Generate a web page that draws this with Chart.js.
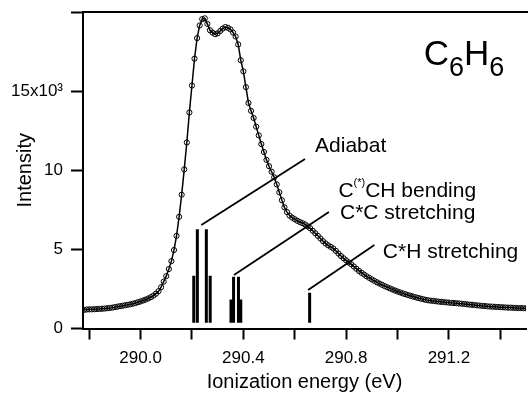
<!DOCTYPE html>
<html><head><meta charset="utf-8">
<script src="https://cdn.jsdelivr.net/npm/chart.js@4.4.0/dist/chart.umd.min.js"></script>
<style>html,body{margin:0;padding:0;background:#fff;}</style>
</head><body>
<canvas id="c" width="531" height="393"></canvas>
<script>
// Photoelectron spectrum (intensity in units of 10^3 counts)
const energy = [
289.78,289.79,289.80,289.81,289.82,289.83,289.84,289.85,289.86,289.87,
289.88,289.89,289.90,289.91,289.92,289.93,289.94,289.95,289.96,289.97,
289.98,289.99,290.00,290.01,290.02,290.03,290.04,290.05,290.06,290.07,
290.08,290.09,290.10,290.11,290.12,290.13,290.14,290.15,290.16,290.17,
290.18,290.19,290.20,290.21,290.22,290.23,290.24,290.25,290.26,290.27,
290.28,290.29,290.30,290.31,290.32,290.33,290.34,290.35,290.36,290.37,
290.38,290.39,290.40,290.41,290.42,290.43,290.44,290.45,290.46,290.47,
290.48,290.49,290.50,290.51,290.52,290.53,290.54,290.55,290.56,290.57,
290.58,290.59,290.60,290.61,290.62,290.63,290.64,290.65,290.66,290.67,
290.68,290.69,290.70,290.71,290.72,290.73,290.74,290.75,290.76,290.77,
290.78,290.79,290.80,290.81,290.82,290.83,290.84,290.85,290.86,290.87,
290.88,290.89,290.90,290.91,290.92,290.93,290.94,290.95,290.96,290.97,
290.98,290.99,291.00,291.01,291.02,291.03,291.04,291.05,291.06,291.07,
291.08,291.09,291.10,291.11,291.12,291.13,291.14,291.15,291.16,291.17,
291.18,291.19,291.20,291.21,291.22,291.23,291.24,291.25,291.26,291.27,
291.28,291.29,291.30,291.31,291.32,291.33,291.34,291.35,291.36,291.37,
291.38,291.39,291.40,291.41,291.42,291.43,291.44,291.45,291.46,291.47,
291.48,291.49,291.50
];
const intensity = [
0.82,0.84,0.85,0.85,0.86,0.87,0.88,0.89,0.90,0.92,
0.94,0.96,0.99,1.02,1.05,1.08,1.11,1.14,1.17,1.21,
1.25,1.30,1.35,1.41,1.47,1.54,1.62,1.72,1.84,2.00,
2.25,2.60,2.95,3.40,3.90,4.60,5.50,6.70,8.10,9.70,
11.40,13.30,15.00,16.70,18.00,18.80,19.20,19.25,18.90,18.50,
18.35,18.25,18.30,18.45,18.60,18.70,18.65,18.55,18.35,18.10,
17.60,16.60,15.90,14.90,13.90,13.40,12.95,12.40,11.85,11.30,
10.80,10.30,9.90,9.55,9.20,8.75,8.25,7.75,7.30,7.00,
6.78,6.65,6.55,6.45,6.37,6.30,6.22,6.10,5.98,5.82,
5.66,5.50,5.33,5.16,5.02,4.90,4.80,4.70,4.55,4.38,
4.22,4.08,3.95,3.82,3.70,3.56,3.42,3.28,3.16,3.05,
2.94,2.84,2.74,2.65,2.56,2.48,2.40,2.32,2.25,2.18,
2.11,2.04,1.98,1.92,1.86,1.81,1.76,1.71,1.66,1.62,
1.57,1.53,1.49,1.45,1.42,1.40,1.38,1.36,1.34,1.32,
1.31,1.29,1.28,1.26,1.25,1.24,1.22,1.21,1.19,1.17,
1.15,1.14,1.12,1.10,1.09,1.07,1.06,1.04,1.03,1.02,
1.01,1.00,0.99,0.98,0.97,0.96,0.96,0.95,0.94,0.93,
0.93,0.92,0.92
];
// Vibrational stick spectrum
const stickEnergy = [290.207,290.221,290.256,290.271,290.352,290.362,290.381,290.390,290.658];
const stickHeight = [2.98,5.91,5.91,2.98,1.48,2.91,2.91,1.48,1.90];
// Leader lines (start x, start y, end x, end y) in data units
const leaderX0 = [290.2365,290.3635,290.652];
const leaderY0 = [6.18,3.02,2.07];
const leaderX1 = [290.640,290.733,290.910];
const leaderY1 = [10.35,7.00,4.92];
// Axis tick values
const xTickStep = 0.2;
const xLabelledTicks = ['290.0','290.4','290.8','291.2'];
const yTickStep = 5;
const yTickLabels = {0:'0',5:'5',10:'10',15:'15x10³'};

const FONT = '"Liberation Sans", Arial, Helvetica, sans-serif';

const curveData = energy.map((e,i)=>({x:e,y:intensity[i]}));
const stickData = [];
stickEnergy.forEach((e,i)=>{ stickData.push({x:e,y:0},{x:e,y:stickHeight[i]},{x:e,y:null}); });
const leaderData = [];
leaderX0.forEach((x,i)=>{ leaderData.push({x:x,y:leaderY0[i]},{x:leaderX1[i],y:leaderY1[i]},{x:leaderX1[i],y:null}); });

const labelDefs = [
  {x:290.679, y:10.81, parts:[{t:'Adiabat'}]},
  {x:290.770, y:7.97, parts:[{t:'C'},{t:'(*)',sup:true},{t:'CH bending'}]},
  {x:290.776, y:6.54, parts:[{t:'C*C stretching'}]},
  {x:290.943, y:4.12, parts:[{t:'C*H stretching'}]}
];
const formula = {x:291.102, y:16.30};

const decor = {
  id:'decor',
  afterDraw(chart){
    const ctx = chart.ctx, a = chart.chartArea, sx = chart.scales.x, sy = chart.scales.y;
    ctx.save();
    ctx.strokeStyle = '#000'; ctx.lineWidth = 2;
    ctx.beginPath(); ctx.moveTo(a.left-1, a.top); ctx.lineTo(a.right+2, a.top); ctx.stroke();
    ctx.fillStyle = '#000';
    ctx.textBaseline = 'alphabetic'; ctx.textAlign = 'left';
    labelDefs.forEach(l=>{
      let px = sx.getPixelForValue(l.x), py = sy.getPixelForValue(l.y);
      l.parts.forEach(p=>{
        if (p.sup){ ctx.font = '11px '+FONT; ctx.fillText(p.t, px, py-11); px += ctx.measureText(p.t).width; }
        else { ctx.font = '21px '+FONT; ctx.fillText(p.t, px, py); px += ctx.measureText(p.t).width; }
      });
    });
    let fx = sx.getPixelForValue(formula.x), fy = sy.getPixelForValue(formula.y);
    const big = '35px '+FONT, small = '27px '+FONT;
    [['C',big,0],['6',small,11],['H',big,0],['6',small,11]].forEach(([t,f,dy])=>{
      ctx.font = f; ctx.fillText(t, fx, fy+dy); fx += ctx.measureText(t).width;
    });
    ctx.restore();
  }
};

new Chart(document.getElementById('c'), {
  type:'scatter',
  data:{datasets:[
    {data:curveData, showLine:true, borderColor:'#000', borderWidth:1.5, pointRadius:2.6, pointBorderWidth:1,
     pointBackgroundColor:'rgba(0,0,0,0)', pointBorderColor:'#000', pointStyle:'circle', tension:0},
    {data:stickData, showLine:true, spanGaps:false, borderColor:'#000', borderWidth:3, pointRadius:0, borderCapStyle:'butt'},
    {data:leaderData, showLine:true, spanGaps:false, borderColor:'#000', borderWidth:1.8, pointRadius:0}
  ]},
  options:{
    responsive:false, animation:false, devicePixelRatio:1,
    layout:{padding:{top:12,right:0,left:0,bottom:0}},
    plugins:{legend:{display:false}, tooltip:{enabled:false}},
    scales:{
      x:{type:'linear', min:289.776, max:291.5,
        afterFit:s=>{s.height=64.5; s.paddingLeft=0; s.paddingRight=0; s.paddingTop=0; s.paddingBottom=0;},
        border:{display:true,color:'#000',width:2},
        grid:{display:true,drawOnChartArea:false,drawTicks:true,tickLength:11,tickWidth:2,tickColor:'#000'},
        ticks:{stepSize:xTickStep, includeBounds:false, autoSkip:false, maxRotation:0, padding:9, color:'#000',
          font:{family:FONT,size:17},
          callback:v=>{ const s=v.toFixed(1); return xLabelledTicks.includes(s)?s:''; }},
        title:{display:true,text:'Ionization energy (eV)',color:'#000',font:{family:FONT,size:20,lineHeight:1.1},padding:{top:0,bottom:0}}
      },
      y:{type:'linear', min:-0.36, max:19.65,
        afterFit:s=>{s.width=83; s.paddingLeft=0; s.paddingRight=0; s.paddingTop=0; s.paddingBottom=0;},
        border:{display:true,color:'#000',width:2},
        grid:{display:true,drawOnChartArea:false,drawTicks:true,tickLength:12,tickWidth:2,tickColor:'#000'},
        ticks:{stepSize:yTickStep, includeBounds:false, padding:8, color:'#000', font:{family:FONT,size:17},
          callback:v=>{ const k=Math.round(v); return yTickLabels[k]!==undefined?yTickLabels[k]:''; }},
        title:{display:true,text:'Intensity',color:'#000',font:{family:FONT,size:20},padding:{top:13,bottom:0}}
      }
    }
  },
  plugins:[decor]
});
</script>
</body></html>
